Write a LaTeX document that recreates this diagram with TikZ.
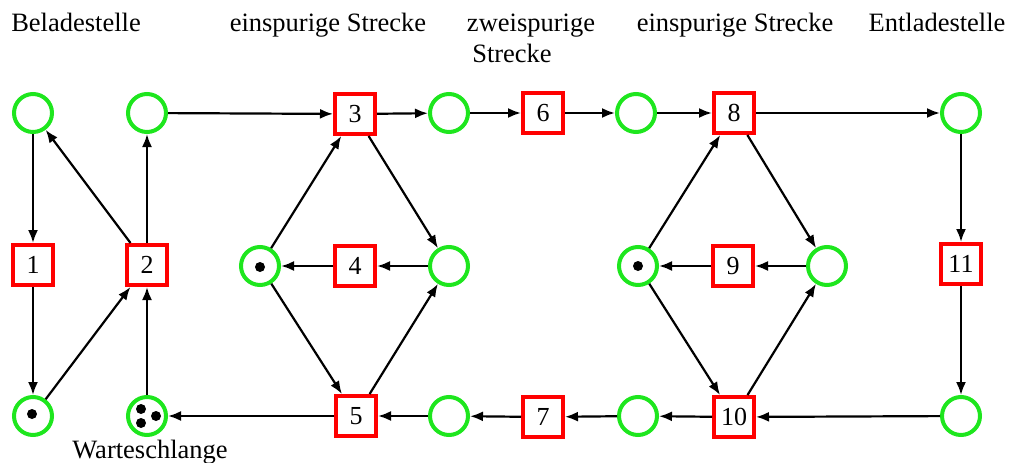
\documentclass[tikz,border=0pt]{standalone}
\usepackage{fontspec}
\setmainfont{Liberation Serif}
\usetikzlibrary{arrows.meta}
\definecolor{placegreen}{RGB}{30,230,30}
\begin{document}
\begin{tikzpicture}[x=1pt,y=-1pt,
  place/.style={draw=placegreen,circle,line width=4pt,minimum size=38pt,inner sep=0pt},
  transition/.style={draw=red,rectangle,line width=4pt,minimum size=40pt,inner sep=0pt,font=\fontsize{26}{30}\selectfont},
  token/.style={circle,fill=black,inner sep=0pt,minimum size=10pt},
  titletext/.style={font=\fontsize{26.5}{30}\selectfont,inner sep=0pt,anchor=base},
  flow/.style={line width=2.2pt,-{Latex[length=13pt,width=10pt]}}]
\useasboundingbox (0,0) rectangle (1009,463);
% Stellen
\node[place] (p1) at (33,113) {};
\node[place] (p2) at (147,113) {};
\node[place] (p3) at (449,113) {};
\node[place] (p4) at (636,113) {};
\node[place] (p5) at (961,113) {};
\node[place] (p6) at (260,266) {};
\node[place] (p7) at (449,266) {};
\node[place] (p8) at (638,266) {};
\node[place] (p9) at (827,266) {};
\node[place] (p10) at (33,416) {};
\node[place] (p11) at (147,416) {};
\node[place] (p12) at (449,416) {};
\node[place] (p13) at (638,416) {};
\node[place] (p14) at (961,416) {};
% Marken
\node[token] (m1) at (260,267) {};
\node[token] (m2) at (638,266) {};
\node[token] (m3) at (32,414) {};
\node[token] (m4) at (141,409) {};
\node[token] (m5) at (141,423) {};
\node[token] (m6) at (156,416) {};
% Transitionen
\node[transition] (t1) at (33,265) {1};
\node[transition] (t2) at (147,265) {2};
\node[transition] (t3) at (355,114) {3};
\node[transition] (t4) at (355,266) {4};
\node[transition] (t5) at (356,416) {5};
\node[transition] (t6) at (543,113) {6};
\node[transition] (t7) at (543,417) {7};
\node[transition] (t8) at (734,113) {8};
\node[transition] (t9) at (733,266) {9};
\node[transition] (t10) at (734,417) {10};
\node[transition] (t11) at (961,264) {11};
% Beschriftungen
\node[titletext] (belade) at (76,31) {Beladestelle};
\node[titletext] (strecke1) at (328,31) {einspurige Strecke};
\node[titletext] (zwei1) at (531,31) {zweispurige};
\node[titletext] (zwei2) at (512,62) {Strecke};
\node[titletext] (strecke2) at (735,31) {einspurige Strecke};
\node[titletext] (entlade) at (937,31) {Entladestelle};
\node[titletext] (warte) at (150,458) {Warteschlange};
% Kanten
\path[draw,flow] (p1) -- (t1);
\path[draw,flow] (t1) -- (p10);
\path[draw,flow] (p10) -- (t2);
\path[draw,flow] (t2) -- (p1);
\path[draw,flow] (t2) -- (p2);
\path[draw,flow] (p11) -- (t2);
\path[draw,flow] (p2) -- (t3);
\path[draw,flow] (t3) -- (p3);
\path[draw,flow] (p3) -- (t6);
\path[draw,flow] (t6) -- (p4);
\path[draw,flow] (p4) -- (t8);
\path[draw,flow] (t8) -- (p5);
\path[draw,flow] (p5) -- (t11);
\path[draw,flow] (t11) -- (p14);
\path[draw,flow] (p14) -- (t10);
\path[draw,flow] (t10) -- (p13);
\path[draw,flow] (p13) -- (t7);
\path[draw,flow] (t7) -- (p12);
\path[draw,flow] (p12) -- (t5);
\path[draw,flow] (t5) -- (p11);
\path[draw,flow] (p6) -- (t3);
\path[draw,flow] (t3) -- (p7);
\path[draw,flow] (p7) -- (t4);
\path[draw,flow] (t4) -- (p6);
\path[draw,flow] (p6) -- (t5);
\path[draw,flow] (t5) -- (p7);
\path[draw,flow] (p8) -- (t8);
\path[draw,flow] (t8) -- (p9);
\path[draw,flow] (p9) -- (t9);
\path[draw,flow] (t9) -- (p8);
\path[draw,flow] (p8) -- (t10);
\path[draw,flow] (t10) -- (p9);
\end{tikzpicture}
\end{document}
